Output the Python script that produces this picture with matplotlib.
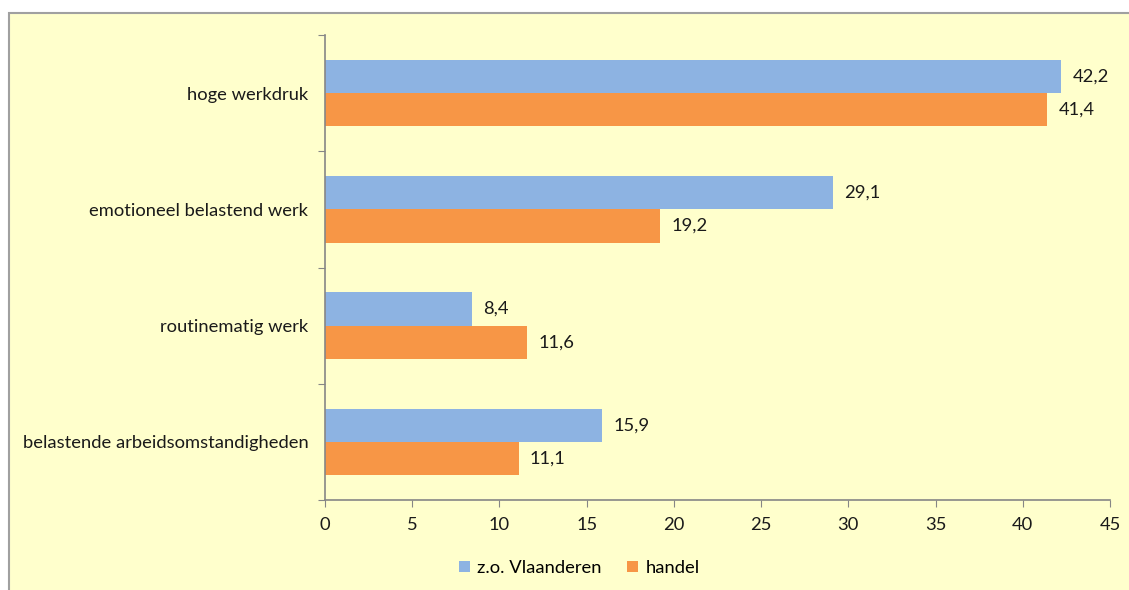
import matplotlib.pyplot as plt
from matplotlib.patches import Rectangle
import numpy as np

categories = ['belastende arbeidsomstandigheden', 'routinematig werk',
              'emotioneel belastend werk', 'hoge werkdruk']
vlaanderen = [15.9, 8.4, 29.1, 42.2]
handel = [11.1, 11.6, 19.2, 41.4]
series_names = ['z.o. Vlaanderen', 'handel']

blue = '#8DB3E2'
orange = '#F79646'
grey = '#868686'
bg = '#FFFFCC'
fs = 13.2

plt.rcParams['font.family'] = ['Lato', 'DejaVu Sans']

fig = plt.figure(figsize=(11.29, 5.90), dpi=100)
fig.patch.set_facecolor('white')
# gele achtergrond met grijze rand
fig.patches.append(Rectangle((9 / 1129, -0.1), 1.2, 0.1 + (590 - 13) / 590, transform=fig.transFigure,
                             facecolor=bg, edgecolor='#A0A0A0', linewidth=1.5, zorder=-10))

ax = fig.add_axes([325 / 1129, 90 / 590, 785 / 1129, 465 / 590])
ax.set_facecolor('none')

y = np.arange(len(categories))
h = 0.285
b1 = ax.barh(y + h / 2, vlaanderen, height=h, color=blue, label=series_names[0], zorder=2)
b2 = ax.barh(y - h / 2, handel, height=h, color=orange, label=series_names[1], zorder=2)

for bars, vals in ((b1, vlaanderen), (b2, handel)):
    for bar, v in zip(bars, vals):
        ax.text(v + 0.65, bar.get_y() + bar.get_height() / 2, ('%.1f' % v).replace('.', ','),
                va='center', ha='left', fontsize=fs, color='#1a1a1a')

ax.set_xlim(0, 45)
ax.set_ylim(-0.5, len(categories) - 0.5)
ax.set_xticks(np.arange(0, 46, 5))
ax.set_yticks(np.arange(-0.5, len(categories), 1))
ax.set_yticklabels([])
ax.set_yticks(y, minor=True)
ax.set_yticklabels(categories, minor=True)
ax.tick_params(axis='y', which='minor', length=0, pad=12, labelsize=fs, labelcolor='#1a1a1a')
ax.tick_params(axis='y', which='major', length=5, color=grey, direction='out')
ax.tick_params(axis='x', length=5, color=grey, direction='out', labelsize=fs,
               labelcolor='#1a1a1a', pad=7)

for s in ('top', 'right'):
    ax.spines[s].set_visible(False)
for s in ('left', 'bottom'):
    ax.spines[s].set_color(grey)
    ax.spines[s].set_linewidth(1.2)

fig.legend(handles=[b1, b2], loc='center', bbox_to_anchor=(579 / 1129, 1 - 568 / 590),
           ncol=2, frameon=False, fontsize=fs, handlelength=0.6, handleheight=0.6,
           handletextpad=0.4, columnspacing=1.4)

fig.savefig('out.png', dpi=100, facecolor=fig.get_facecolor())
